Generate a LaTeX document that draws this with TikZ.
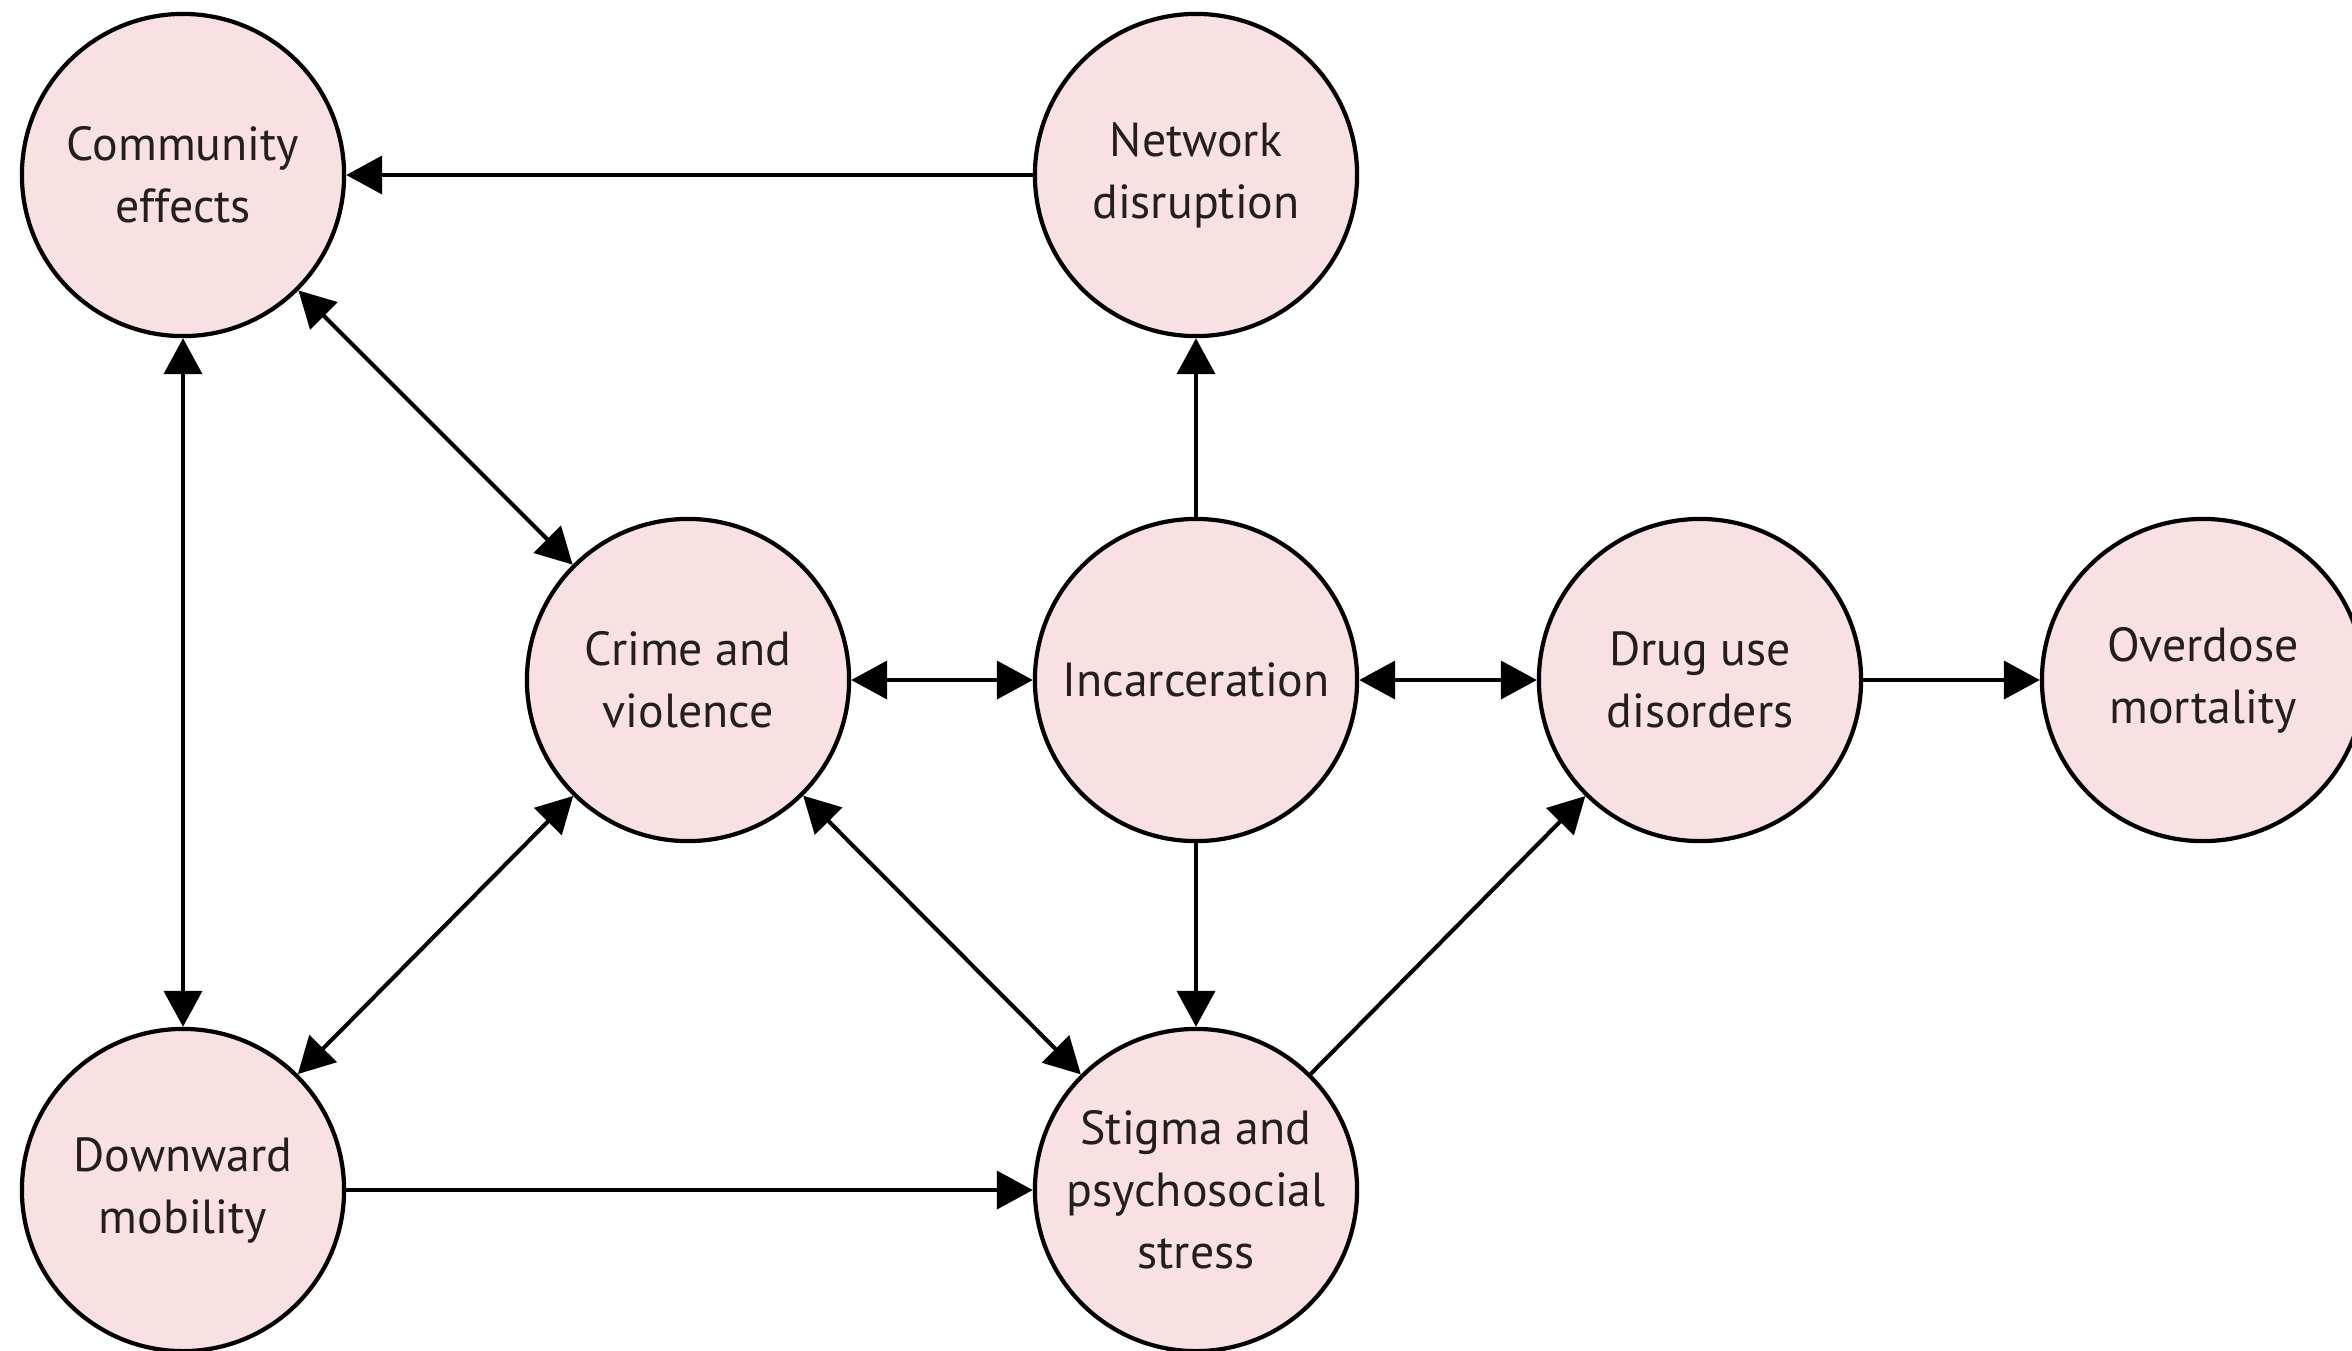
\documentclass[tikz,border=0pt]{standalone}
\usepackage{fontspec}
\setmainfont{PT Sans}
\usetikzlibrary{arrows.meta}
\definecolor{nodefill}{RGB}{248,224,227}
\definecolor{txt}{RGB}{35,31,32}
\tikzset{
  factor/.style={circle, draw=black, line width=1.2pt, fill=nodefill, minimum size=3.22cm, inner sep=0pt,
    align=center, text=txt, font=\fontsize{13.6}{17.6}\selectfont},
  link/.style={line width=1.15pt, -{Triangle[length=3.6mm,width=3.8mm]}},
  dlink/.style={line width=1.15pt, {Triangle[length=3.6mm,width=3.8mm]}-{Triangle[length=3.6mm,width=3.8mm]}},
}
\begin{document}
\begin{tikzpicture}[x=0.01cm,y=-0.01cm]
\useasboundingbox[fill=white] (0,0) rectangle (2352,1350);
\node[factor] (comm) at (183,175) {Community\\effects};
\node[factor] (net) at (1196,175) {Network\\disruption};
\node[factor] (crime) at (688,680) {Crime and\\violence};
\node[factor] (inc) at (1196,680) {Incarceration};
\node[factor] (drug) at (1700,680) {Drug use\\disorders};
\node[factor] (od) at (2203,680) {Overdose\\mortality};
\node[factor] (down) at (183,1190) {Downward\\mobility};
\node[factor] (stig) at (1196,1190) {Stigma and\\psychosocial\\stress};

\draw[link] (net) -- (comm);
\draw[dlink] (comm) -- (crime);
\draw[dlink] (comm) -- (down);
\draw[dlink] (crime) -- (down);
\draw[dlink] (crime) -- (inc);
\draw[link] (inc) -- (net);
\draw[dlink] (inc) -- (drug);
\draw[link] (drug) -- (od);
\draw[link] (inc) -- (stig);
\draw[dlink] (crime) -- (stig);
\draw[link] (down) -- (stig);
\draw[link] (stig) -- (drug);
\end{tikzpicture}
\end{document}
